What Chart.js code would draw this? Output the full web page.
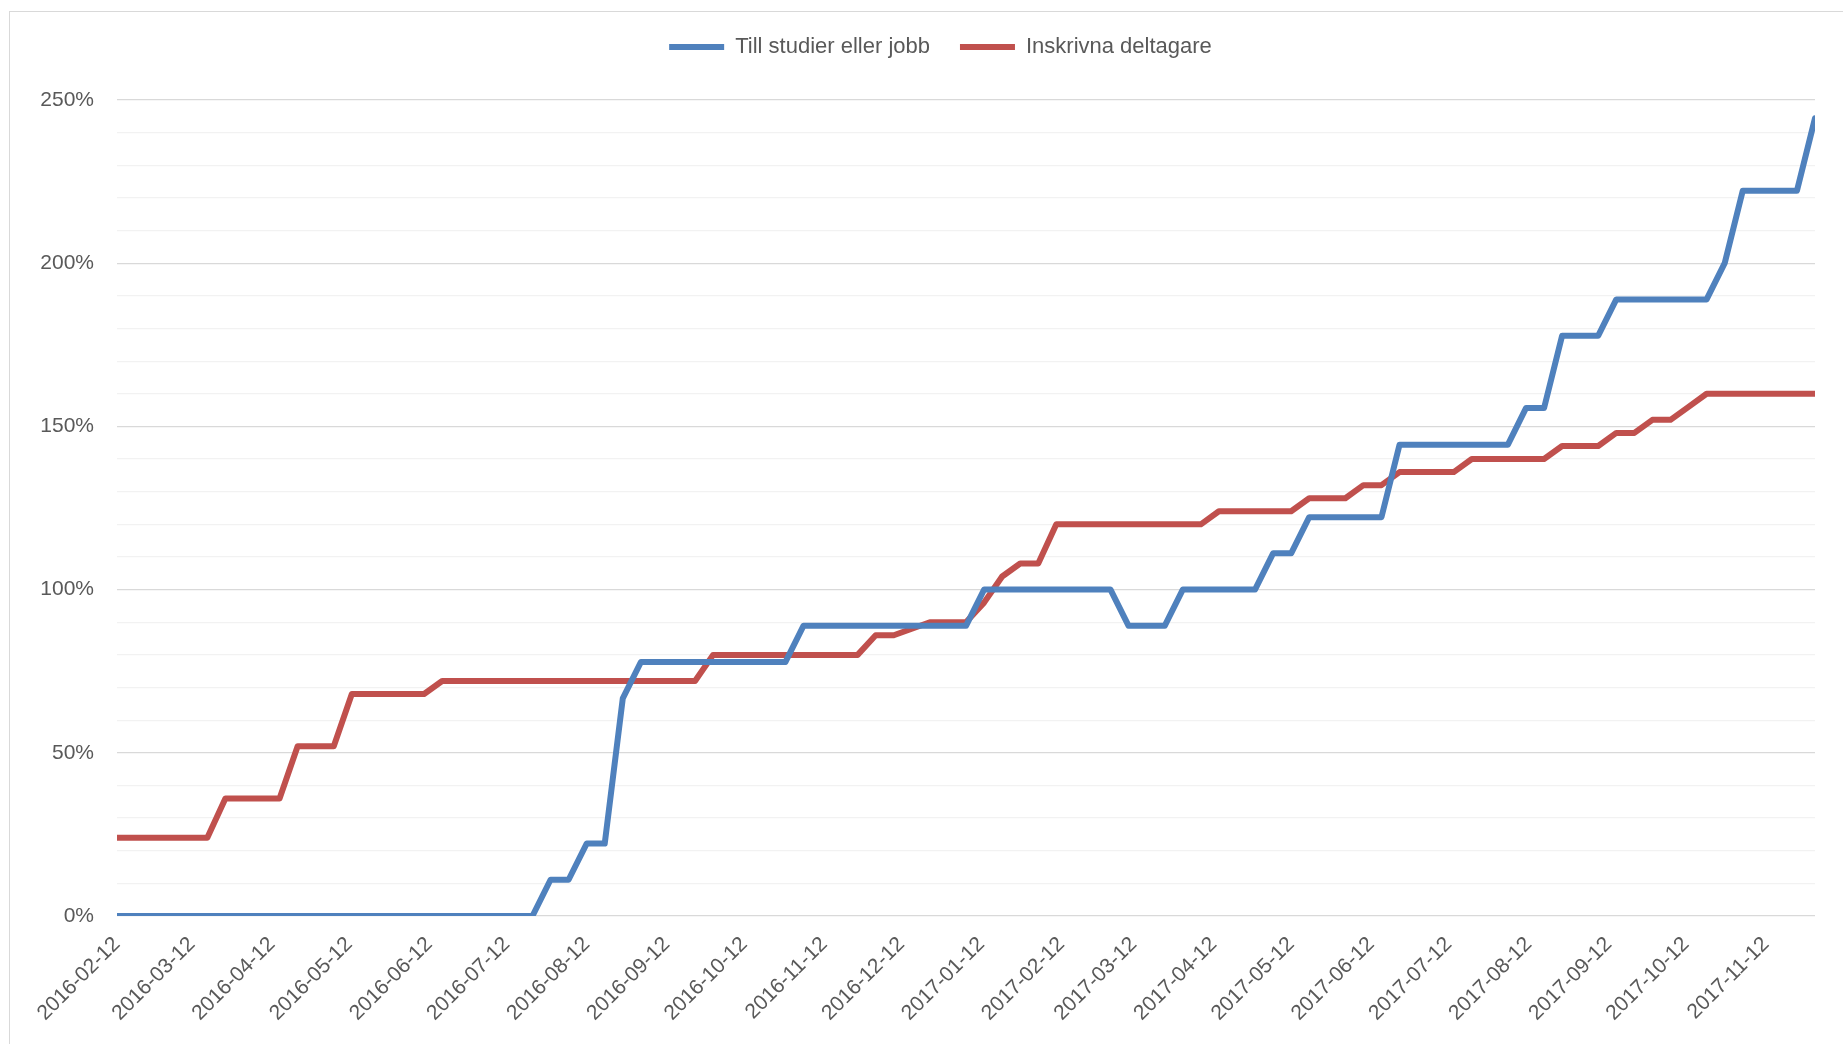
<!DOCTYPE html>
<html>
<head>
<meta charset="utf-8">
<script src="https://cdn.jsdelivr.net/npm/chart.js@4.4.0/dist/chart.umd.min.js"></script>
<style>
  html, body { margin: 0; padding: 0; background: #fff; overflow: hidden; }
  #frame { position: absolute; left: 9px; top: 11px; width: 1900px; height: 1100px; border: 1px solid #d9d9d9; }
  #wrap { position: absolute; left: 0; top: 0; width: 1843px; height: 1044px; }
</style>
</head>
<body>
<div id="frame"></div>
<div id="wrap"><canvas id="chart"></canvas></div>
<script>
// weekly observations, first week 2016-02-12
const startDate = '2016-02-12';
const weekDays = [];
for (let k = 0; k < 95; k++) weekDays.push(k * 7);

const tillStudierEllerJobb = [
  0, 0, 0, 0, 0, 0, 0, 0, 0, 0, 0, 0, 0, 0, 0, 0, 0, 0, 0, 0, 0, 0, 0, 0,
  11.1, 11.1, 22.2, 22.2, 66.7,
  77.8, 77.8, 77.8, 77.8, 77.8, 77.8, 77.8, 77.8, 77.8,
  88.9, 88.9, 88.9, 88.9, 88.9, 88.9, 88.9, 88.9, 88.9, 88.9,
  100, 100, 100, 100, 100, 100, 100, 100,
  88.9, 88.9, 88.9,
  100, 100, 100, 100, 100,
  111.1, 111.1,
  122.2, 122.2, 122.2, 122.2, 122.2,
  144.4, 144.4, 144.4, 144.4, 144.4, 144.4, 144.4,
  155.6, 155.6,
  177.8, 177.8, 177.8,
  188.9, 188.9, 188.9, 188.9, 188.9, 188.9,
  200,
  222.2, 222.2, 222.2, 222.2,
  244.4
];

const inskrivnaDeltagare = [
  24, 24, 24, 24, 24, 24,
  36, 36, 36, 36,
  52, 52, 52,
  68, 68, 68, 68, 68,
  72, 72, 72, 72, 72, 72, 72, 72, 72, 72, 72, 72, 72, 72, 72,
  80, 80, 80, 80, 80, 80, 80, 80, 80,
  86, 86, 88, 90, 90, 90, 96, 104, 108, 108,
  120, 120, 120, 120, 120, 120, 120, 120, 120,
  124, 124, 124, 124, 124,
  128, 128, 128,
  132, 132,
  136, 136, 136, 136,
  140, 140, 140, 140, 140,
  144, 144, 144,
  148, 148,
  152, 152,
  156,
  160, 160, 160, 160, 160, 160, 160
];

const monthTicks = [
  '2016-02-12', '2016-03-12', '2016-04-12', '2016-05-12', '2016-06-12', '2016-07-12',
  '2016-08-12', '2016-09-12', '2016-10-12', '2016-11-12', '2016-12-12', '2017-01-12',
  '2017-02-12', '2017-03-12', '2017-04-12', '2017-05-12', '2017-06-12', '2017-07-12',
  '2017-08-12', '2017-09-12', '2017-10-12', '2017-11-12'
];

function dayOffset(d) {
  return Math.round((Date.parse(d) - Date.parse(startDate)) / 86400000);
}

const textColor = '#595959';
const font = { family: 'Liberation Sans, Arial, sans-serif', size: 21 };

// nudge the legend a bit to the right, like the original
const legendShift = {
  id: 'legendShift',
  afterLayout(chart) {
    chart.legend.left += 33;
    chart.legend.right += 33;
  },
};

new Chart(document.getElementById('chart'), {
  type: 'line',
  data: {
    datasets: [
      {
        label: 'Till studier eller jobb',
        data: weekDays.map((x, i) => ({ x: x, y: tillStudierEllerJobb[i] })),
        borderColor: '#4f81bd',
        backgroundColor: '#4f81bd',
        borderWidth: 6,
        borderCapStyle: 'round',
        borderJoinStyle: 'round',
        pointRadius: 0,
        tension: 0,
      },
      {
        label: 'Inskrivna deltagare',
        data: weekDays.map((x, i) => ({ x: x, y: inskrivnaDeltagare[i] })),
        borderColor: '#c0504d',
        backgroundColor: '#c0504d',
        borderWidth: 6,
        borderCapStyle: 'round',
        borderJoinStyle: 'round',
        pointRadius: 0,
        tension: 0,
      },
    ],
  },
  plugins: [legendShift],
  options: {
    responsive: true,
    maintainAspectRatio: false,
    animation: false,
    layout: { padding: { left: 0, right: 28, top: 6, bottom: 0 } },
    plugins: {
      tooltip: { enabled: false },
      legend: {
        position: 'top',
        labels: {
          usePointStyle: true,
          pointStyle: 'line',
          pointStyleWidth: 55,
          padding: 30,
          color: textColor,
          font: { family: font.family, size: 22 },
        },
      },
      // empty spacer between legend and plot
      title: {
        display: true,
        text: '',
        weight: 500,
        padding: { top: 0, bottom: 31 },
        font: { size: 1, lineHeight: 1 },
      },
    },
    scales: {
      x: {
        type: 'linear',
        min: 0,
        max: weekDays[weekDays.length - 1],
        afterBuildTicks: s => { s.ticks = monthTicks.map(d => ({ value: dayOffset(d) })); },
        afterFit: s => { s.height = 128; },
        grid: { display: false },
        border: { display: false },
        ticks: {
          autoSkip: false,
          minRotation: 45,
          maxRotation: 45,
          padding: 8,
          color: textColor,
          font: font,
          callback: (v, i) => monthTicks[i],
        },
      },
      y: {
        min: 0,
        max: 250,
        afterFit: s => { s.width = 117; },
        border: { display: false },
        grid: {
          drawTicks: false,
          color: c => (c.tick && c.tick.value % 50 === 0 ? '#d9d9d9' : '#f2f2f2'),
          lineWidth: 1.2,
        },
        ticks: {
          stepSize: 10,
          padding: 23,
          color: textColor,
          font: font,
          callback: v => (v % 50 === 0 ? v + '%' : ''),
        },
      },
    },
  },
});
</script>
</body>
</html>
